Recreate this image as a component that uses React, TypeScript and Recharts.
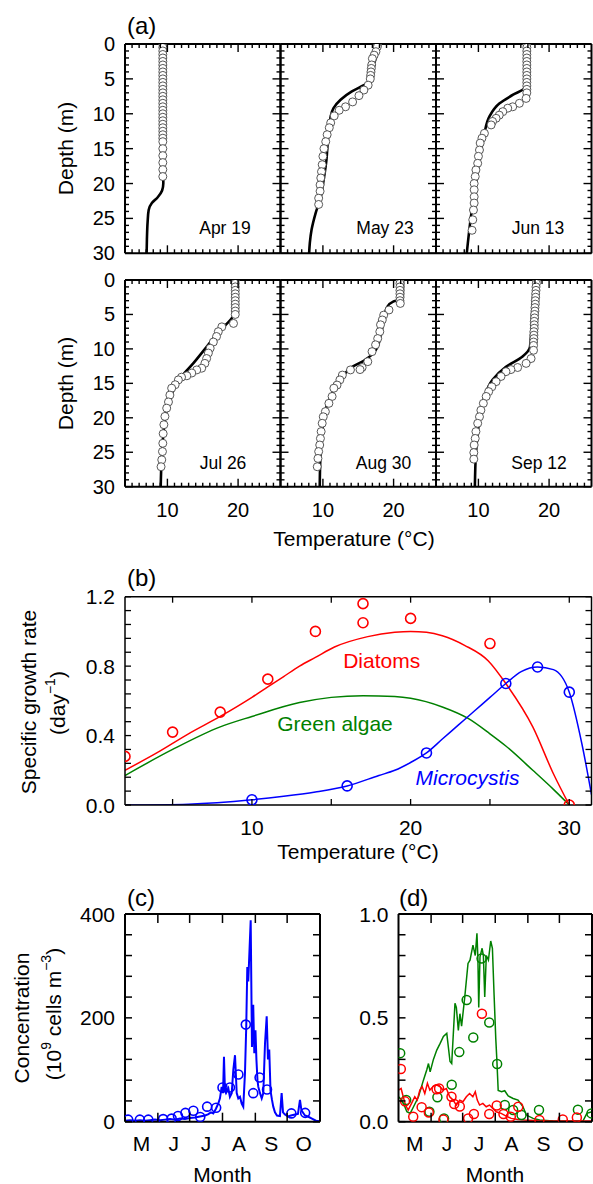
import React from 'react';
import { ComposedChart, Line, Scatter, XAxis, YAxis } from 'recharts';

const W = 593;
const H = 1184;
const FONT = '"Liberation Sans", Arial, Helvetica, sans-serif';

type Pt = [number, number];

// ---------------- (a) temperature profiles: [temperature, depth] ----------------
const profileTempTicks = [5, 6, 7, 8, 9, 10, 11, 12, 13, 14, 15, 16, 17, 18, 19, 20, 21, 22, 23, 24, 25];
const profileTempMajor = [10, 20];
const depthTicks = [0, 1, 2, 3, 4, 5, 6, 7, 8, 9, 10, 11, 12, 13, 14, 15, 16, 17, 18, 19, 20, 21, 22, 23, 24, 25, 26, 27, 28, 29, 30];
const depthMajor = [0, 5, 10, 15, 20, 25, 30];
const profileDates = ['Apr 19', 'May 23', 'Jun 13', 'Jul 26', 'Aug 30', 'Sep 12'];

const apr19Model: Pt[] = [[9.45, 0], [9.45, 10], [9.42, 20], [9.25, 21], [8.6, 22], [7.8, 22.8], [7.35, 23.8], [7.2, 25.5], [7.1, 28], [7.06, 30]];
const apr19Obs: Pt[] = [[9.35, 0], [9.35, 0.5], [9.35, 1], [9.35, 1.5], [9.35, 2], [9.35, 2.5], [9.35, 3], [9.35, 3.5], [9.35, 4], [9.35, 4.5], [9.35, 5], [9.35, 5.5], [9.35, 6], [9.35, 6.5], [9.35, 7], [9.35, 7.5], [9.35, 8], [9.35, 8.5], [9.35, 9], [9.35, 9.5], [9.35, 10], [9.35, 10.5], [9.35, 11], [9.35, 11.5], [9.35, 12], [9.35, 12.5], [9.35, 13], [9.35, 13.5], [9.35, 14], [9.35, 15], [9.35, 16], [9.35, 17], [9.35, 18], [9.35, 19]];

const may23Model: Pt[] = [[17.9, 0], [17.75, 1], [17.4, 2.3], [17.1, 3.25], [17.0, 5.2], [15.8, 5.9], [14.1, 6.8], [12.5, 8.0], [11.5, 9.2], [11.1, 10.4], [10.9, 11.8], [10.7, 13.8], [10.5, 16.6], [10.1, 19.5], [9.7, 21.9], [8.95, 24.3], [8.4, 26.6], [8.15, 28.5], [8.05, 30]];
const may23Obs: Pt[] = [[17.75, 0], [17.7, 0.4], [17.5, 1.1], [17.25, 1.6], [17.0, 2.1], [16.9, 3.0], [16.85, 3.5], [16.8, 4.0], [16.75, 4.5], [16.7, 5.0], [16.4, 5.9], [15.8, 6.6], [15.1, 7.4], [14.2, 8.3], [13.2, 9.0], [12.3, 9.5], [11.6, 10.3], [11.1, 11.3], [10.9, 12.0], [10.6, 13.0], [10.4, 14.0], [10.15, 15.0], [10.0, 16.1], [9.9, 17.3], [9.8, 18.3], [9.7, 19.2], [9.6, 20.2], [9.6, 21.1], [9.4, 22.1], [9.4, 23.0]];

const jun13Model: Pt[] = [[16.65, 0], [16.6, 3], [16.5, 6.3], [14.85, 7.3], [13.0, 8.5], [11.55, 10.4], [10.85, 12.8], [10.35, 15.2], [9.65, 20], [8.95, 24.7], [8.35, 30]];
const jun13Obs: Pt[] = [[16.85, 0], [16.85, 0.5], [16.85, 1], [16.85, 1.5], [16.85, 2], [16.85, 2.5], [16.85, 3], [16.85, 3.5], [16.85, 4], [16.85, 4.5], [16.85, 5], [16.85, 5.5], [16.85, 6], [16.85, 6.5], [16.85, 7], [16.75, 7.8], [15.8, 8.5], [14.85, 9.0], [14.15, 9.2], [13.45, 9.7], [12.95, 10.2], [12.5, 10.65], [12.0, 11.1], [11.8, 11.6], [10.85, 12.8], [10.5, 13.5], [10.25, 14.2], [10.15, 15.2], [10.0, 16.1], [9.9, 17.1], [9.65, 18.05], [9.55, 19.0], [9.4, 20.0], [9.4, 20.9], [9.4, 21.9], [9.4, 22.8], [9.3, 23.8], [9.2, 25.2], [9.1, 26.7]];

const jul26Model: Pt[] = [[19.7, 0], [19.7, 3.9], [19.55, 4.8], [18.9, 5.8], [17.45, 7.3], [15.55, 9.7], [13.65, 12.1], [12.0, 14.0], [10.85, 16.0], [9.9, 18.9], [9.4, 22.7], [9.2, 25.6], [9.05, 30]];
const jul26Obs: Pt[] = [[19.6, 0], [19.6, 0.5], [19.6, 1], [19.6, 1.5], [19.6, 2], [19.6, 2.5], [19.6, 3], [19.6, 3.5], [19.6, 4], [19.6, 4.5], [19.6, 5], [19.35, 6.3], [17.7, 6.8], [17.2, 7.5], [16.95, 8.2], [16.5, 9.0], [16.05, 9.9], [15.8, 10.6], [15.55, 11.4], [15.3, 12.1], [14.85, 12.8], [14.15, 13.05], [13.45, 13.5], [12.75, 13.9], [12.0, 14.1], [11.55, 14.5], [11.1, 15.2], [10.6, 15.7], [10.35, 16.7], [10.15, 17.7], [9.9, 18.6], [9.65, 19.8], [9.5, 21.0], [9.4, 22.3], [9.35, 23.7], [9.3, 24.9], [9.2, 26.1], [9.1, 27.1]];

const aug30Model: Pt[] = [[21.35, 0], [21.3, 2.8], [20.0, 3.1], [19.1, 3.9], [18.6, 5.8], [18.15, 8.2], [17.45, 10.2], [16.0, 11.6], [14.15, 12.6], [12.75, 14.0], [11.55, 16.0], [10.35, 18.9], [9.9, 21.8], [9.65, 25.6], [9.55, 30]];
const aug30Obs: Pt[] = [[20.9, 0], [20.9, 0.5], [20.9, 1], [20.9, 1.5], [20.9, 2], [20.9, 2.5], [20.9, 3], [20.95, 3.4], [19.35, 4.35], [18.6, 5.1], [18.4, 5.8], [18.15, 6.5], [18.05, 7.5], [17.75, 8.5], [17.45, 9.4], [16.95, 10.4], [16.35, 11.85], [15.55, 12.7], [15.25, 13.0], [13.9, 13.05], [12.75, 13.8], [12.4, 14.5], [12.0, 15.25], [11.55, 15.7], [11.3, 16.9], [10.85, 17.9], [10.35, 19.1], [10.05, 19.85], [9.9, 20.8], [9.75, 22.0], [9.65, 23.0], [9.55, 23.95], [9.4, 24.9], [9.3, 25.9], [9.2, 27.1]];

const sep12Model: Pt[] = [[17.9, 0], [17.6, 5], [17.3, 9.7], [16.25, 11.1], [13.9, 12.6], [12.0, 14.5], [10.85, 16.9], [10.15, 20.3], [9.65, 25.2], [9.5, 30]];
const sep12Obs: Pt[] = [[18.2, 0], [18.2, 0.5], [18.15, 1], [18.15, 1.5], [18.1, 2], [18.1, 2.5], [18.05, 3], [18.05, 3.5], [18.0, 4], [18.0, 4.5], [17.95, 5], [17.95, 5.5], [17.9, 6], [17.9, 6.5], [17.9, 7], [17.85, 7.5], [17.85, 8], [17.85, 8.5], [17.8, 9], [17.8, 9.5], [17.8, 10.2], [17.45, 11.4], [16.75, 12.1], [15.55, 12.7], [14.6, 13.0], [13.9, 13.3], [13.2, 14.0], [12.5, 14.75], [11.9, 15.5], [11.45, 16.2], [11.1, 16.9], [10.7, 17.9], [10.35, 18.9], [10.15, 19.85], [9.9, 20.8], [9.65, 22.0], [9.55, 23.0], [9.4, 23.95], [9.35, 25.05], [9.35, 26.0]];

// ---------------- (b) growth rate vs temperature ----------------
const growthTempTicks = [5, 10, 15, 20, 25, 30];
const growthTempLabels = [10, 20, 30];
const growthRateTicks = [0, 0.08, 0.16, 0.24, 0.32, 0.4, 0.48, 0.56, 0.64, 0.72, 0.8, 0.88, 0.96, 1.04, 1.12, 1.2];
const growthRateMajor = [0, 0.4, 0.8, 1.2];
const diatomObs: Pt[] = [[2, 0.28], [5, 0.42], [8, 0.535], [11, 0.725], [14, 1.0], [17, 1.16], [17, 1.05], [20, 1.075], [25, 0.93], [30, 0.0]];
const diatomModel: Pt[] = [[2, 0.2], [4, 0.3], [6, 0.41], [8, 0.51], [10, 0.62], [11, 0.68], [12, 0.74], [13, 0.8], [14, 0.85], [15.2, 0.91], [17.3, 0.97], [19, 0.995], [20, 1.0], [21, 0.995], [22, 0.975], [23.4, 0.92], [24.9, 0.83], [26, 0.7], [27.7, 0.45], [29, 0.18], [30, 0]];
const greenModel: Pt[] = [[2, 0.17], [5, 0.32], [8, 0.45], [10, 0.51], [13, 0.59], [15, 0.62], [17, 0.63], [19, 0.625], [20, 0.615], [22, 0.565], [23.6, 0.5], [25, 0.41], [26, 0.34], [27.7, 0.2], [29, 0.09], [30, 0]];
const microObs: Pt[] = [[10, 0.03], [16, 0.11], [21, 0.3], [26, 0.7], [28, 0.795], [30, 0.65]];
const microModel: Pt[] = [[2, 0], [6, 0.005], [10, 0.03], [12, 0.05], [14, 0.075], [16, 0.11], [18, 0.17], [19, 0.2], [20, 0.245], [21, 0.3], [22, 0.38], [23, 0.46], [24, 0.54], [25, 0.62], [26, 0.7], [27, 0.77], [28, 0.795], [29, 0.78], [30, 0.65], [30.8, 0.35], [31.4, 0.06]];

// ---------------- (c), (d) concentration vs month: [day since May 1, value] ----------------
const monthBounds = [31, 61, 92, 123, 153];
const monthMids = [15.5, 46, 76.5, 107.5, 138, 168.5];
const monthLabels = ['M', 'J', 'J', 'A', 'S', 'O'];
const concTicks = [0, 40, 80, 120, 160, 200, 240, 280, 320, 360, 400];
const concMajor = [0, 200, 400];
const fracTicks = [0, 0.1, 0.2, 0.3, 0.4, 0.5, 0.6, 0.7, 0.8, 0.9, 1.0];
const fracMajor = [0, 0.5, 1.0];

const microLine: Pt[] = [[0, 2], [4.7, 3], [9.4, 2], [14.2, 3], [18.9, 2], [23.6, 3], [28.3, 4], [33, 3], [37.7, 4], [42.5, 5], [47.2, 4], [51.9, 6], [56.6, 5], [61.3, 7], [66, 8], [70.8, 10], [75.5, 12], [78.3, 14], [81.1, 18], [83.3, 16], [85.8, 25], [88, 35], [89.6, 45], [91.2, 67], [92.5, 55], [93.4, 125], [94.3, 60], [95.3, 55], [97.5, 64], [99, 48], [100.7, 55], [102.2, 100], [103.8, 128], [105.4, 55], [106.9, 45], [108.5, 48], [110.1, 35], [111.6, 29], [113.2, 93], [114.4, 183], [115.4, 298], [116.3, 270], [118.6, 388], [119.8, 144], [121, 225], [122, 132], [123.1, 176], [124, 120], [125, 80], [125.8, 67], [127.4, 55], [129, 45], [130.5, 55], [132.1, 150], [133.7, 203], [134.9, 120], [136.1, 139], [137.3, 60], [138.7, 42], [139.9, 29], [141.5, 18], [143.4, 12], [146.2, 11], [147.8, 55], [149.1, 18], [150.9, 14], [153.8, 10], [156.6, 12], [160.4, 14], [163.2, 15], [165.1, 42], [166.5, 22], [169.8, 12], [172.6, 10], [176.4, 6], [180.2, 2], [184, 1]];
const microPts: Pt[] = [[3, 4], [14, 4], [22, 4], [36, 5], [44, 6], [50, 11], [57, 17], [64.5, 21], [71, 9], [77.5, 29], [86, 27], [92, 66], [99, 66], [107, 91], [114, 187], [121, 55], [127, 85], [134, 62], [157, 16], [170, 17]];

const greenLine: Pt[] = [[0, 0.12], [1.6, 0.112], [4.7, 0.088], [8, 0.048], [11.1, 0.04], [14.3, 0.072], [19, 0.12], [23.7, 0.2], [26.9, 0.25], [28.5, 0.28], [30.1, 0.24], [33.2, 0.3], [36.4, 0.345], [39.6, 0.377], [42.7, 0.41], [45.9, 0.425], [49, 0.29], [50.6, 0.28], [53.7, 0.57], [55, 0.55], [56.9, 0.44], [58.4, 0.52], [60, 0.46], [63, 0.6], [66.1, 0.762], [68, 0.778], [70.8, 0.85], [73, 0.8], [74.6, 0.907], [75.5, 0.786], [76.3, 0.55], [77.5, 0.794], [79.5, 0.835], [80.7, 0.8], [82, 0.6], [83.5, 0.8], [85.5, 0.778], [87.7, 0.87], [89.3, 0.835], [90.9, 0.61], [92.5, 0.4], [93.5, 0.3], [94.8, 0.15], [98, 0.144], [101, 0.149], [104.3, 0.124], [109, 0.112], [113.7, 0.104], [118.4, 0.072], [121.6, 0.032], [128, 0.016], [134.3, 0.008], [147, 0.003], [159.6, 0.002], [175.4, 0.003], [179.1, 0.04], [184, 0.048]];
const greenPts: Pt[] = [[1.6, 0.33], [7.3, 0.105], [29.4, 0.048], [37, 0.118], [43.3, 0.016], [50.6, 0.178], [57.8, 0.335], [64.8, 0.586], [71.1, 0.405], [79, 0.786], [86.3, 0.478], [93.8, 0.278], [101.1, 0.08], [109, 0.056], [117, 0.032], [133.6, 0.056], [170.6, 0.058], [183.5, 0.04]];
const diatomLine: Pt[] = [[0, 0.152], [2.5, 0.16], [4.5, 0.12], [6.7, 0.08], [9.2, 0.056], [12.4, 0.088], [15.5, 0.12], [17.8, 0.104], [20.3, 0.152], [22.5, 0.169], [25, 0.136], [27.5, 0.185], [29.8, 0.152], [32.9, 0.169], [36, 0.177], [39.2, 0.169], [42.4, 0.152], [45.5, 0.16], [48.7, 0.12], [51.9, 0.104], [55, 0.08], [58.2, 0.104], [61.3, 0.096], [64.5, 0.12], [67.6, 0.136], [70.7, 0.12], [73, 0.144], [74.9, 0.104], [77.1, 0.08], [80.2, 0.088], [83.4, 0.072], [86.5, 0.08], [89.7, 0.064], [92.9, 0.048], [97.6, 0.04], [102.4, 0.027], [107.1, 0.016], [113.4, 0.011], [119.7, 0.008], [132.4, 0.005], [151, 0.003], [170, 0.003], [184, 0.003]];
const diatomPts: Pt[] = [[2.2, 0.254], [6.2, 0.098], [14, 0.024], [22, 0.07], [28.8, 0.044], [36.2, 0.156], [38.6, 0.16], [42.7, 0.01], [50.4, 0.12], [53, 0.085], [58.3, 0.073], [66.2, 0.016], [71.7, 0.037], [79.3, 0.52], [86.3, 0.037], [93.4, 0.078], [99.8, 0.037], [106.8, 0.024], [113.9, 0.072], [134, 0.008], [156.2, 0.011], [169.6, 0.02]];

// ---------------- helpers ----------------
const toXY = (arr: Pt[]) => arr.map(([x, y]) => ({ x, y }));
const near = (a: number[], v: number) => a.some((m) => Math.abs(m - v) < 1e-6);

type Side = 'bottom' | 'top' | 'left' | 'right';
type TickCfg = {
  major: number[];
  majorLen: number;
  minorLen: number;
  noLine?: number[];
  label?: (v: number) => string | null;
  fontSize?: number;
  offset?: number;
  sw?: number;
};

function makeTick(side: Side, cfg: TickCfg) {
  return function TickMark(p: any) {
    const v = Number(p.payload?.value);
    const x = Number(p.x);
    const y = Number(p.y);
    const len = cfg.noLine && near(cfg.noLine, v) ? 0 : near(cfg.major, v) ? cfg.majorLen : cfg.minorLen;
    const sw = cfg.sw ?? 1.5;
    let x2 = x;
    let y2 = y;
    if (side === 'bottom') y2 = y - len;
    else if (side === 'top') y2 = y + len;
    else if (side === 'left') x2 = x + len;
    else x2 = x - len;
    const lab = cfg.label ? cfg.label(v) : null;
    const off = cfg.offset ?? 20;
    const fs = cfg.fontSize ?? 21;
    let text: React.ReactNode = null;
    if (lab != null) {
      if (side === 'bottom') {
        text = (
          <text x={x} y={y + off} textAnchor="middle" dominantBaseline="central" fontSize={fs} fontFamily={FONT} fill="#000">
            {lab}
          </text>
        );
      } else if (side === 'left') {
        text = (
          <text x={x - off} y={y} textAnchor="end" dominantBaseline="central" fontSize={fs} fontFamily={FONT} fill="#000">
            {lab}
          </text>
        );
      }
    }
    return (
      <g>
        {len > 0 && <line x1={x} y1={y} x2={x2} y2={y2} stroke="#000" strokeWidth={sw} />}
        {text}
      </g>
    );
  };
}

type FrameProps = {
  rect: [number, number, number, number];
  xDomain: [number, number];
  yDomain: [number, number];
  yReversed?: boolean;
  xTicks: number[];
  yTicks: number[];
  bottom: TickCfg;
  top: TickCfg;
  left: TickCfg;
  right: TickCfg;
  fw: number;
  children?: React.ReactNode;
};

// Axis bands are 1px wide; margins are reduced by 1px so the plot area equals rect.
function Frame({ rect, xDomain, yDomain, yReversed, xTicks, yTicks, bottom, top, left, right, fw, children }: FrameProps) {
  const [l, t, r, b] = rect;
  const axisLine = { stroke: '#000', strokeWidth: fw };
  return (
    <div style={{ position: 'absolute', left: 0, top: 0 }}>
      <ComposedChart width={W} height={H} margin={{ left: l - 1, top: t - 1, right: W - r - 1, bottom: H - b - 1 }}>
        <XAxis xAxisId="b" orientation="bottom" type="number" dataKey="x" domain={xDomain} allowDataOverflow ticks={xTicks} interval={0} height={1} tickSize={0} tickMargin={0} tickLine={false} axisLine={axisLine} tick={makeTick('bottom', bottom)} />
        <XAxis xAxisId="t" orientation="top" type="number" dataKey="x" domain={xDomain} allowDataOverflow ticks={xTicks} interval={0} height={1} tickSize={0} tickMargin={0} tickLine={false} axisLine={axisLine} tick={makeTick('top', top)} />
        <YAxis yAxisId="l" orientation="left" type="number" dataKey="y" domain={yDomain} reversed={!!yReversed} allowDataOverflow ticks={yTicks} interval={0} width={1} tickSize={0} tickMargin={0} tickLine={false} axisLine={axisLine} tick={makeTick('left', left)} />
        <YAxis yAxisId="r" orientation="right" type="number" dataKey="y" domain={yDomain} reversed={!!yReversed} allowDataOverflow ticks={yTicks} interval={0} width={1} tickSize={0} tickMargin={0} tickLine={false} axisLine={axisLine} tick={makeTick('right', right)} />
        {children}
      </ComposedChart>
    </div>
  );
}

const ring = (r: number, stroke: string, sw: number, fill: string) => (p: any) =>
  <circle cx={p.cx} cy={p.cy} r={r} stroke={stroke} strokeWidth={sw} fill={fill} />;

function Txt({ x, y, size = 21, anchor = 'middle', rot = 0, color = '#000', italic = false, children }: any) {
  return (
    <text transform={`translate(${x},${y}) rotate(${rot})`} textAnchor={anchor} dominantBaseline="central" fontSize={size} fill={color} fontStyle={italic ? 'italic' : 'normal'} fontFamily={FONT}>
      {children}
    </text>
  );
}

// ---------------- panel (a) layout ----------------
const profiles = [
  { model: apr19Model, obs: apr19Obs },
  { model: may23Model, obs: may23Obs },
  { model: jun13Model, obs: jun13Obs },
  { model: jul26Model, obs: jul26Obs },
  { model: aug30Model, obs: aug30Obs },
  { model: sep12Model, obs: sep12Obs },
];
const colLefts = [125, 280.5, 436, 591.5];
const rowTB: [number, number][] = [[44, 253.3], [280, 486.7]];

export default function App() {
  const tempLabel = (v: number) => (near(profileTempMajor, v) ? String(v) : null);
  const depthLabel = (v: number) => (near(depthMajor, v) ? String(v) : null);
  const aTick = (label?: (v: number) => string | null, offset = 10): TickCfg => ({ major: profileTempMajor, majorLen: 8, minorLen: 4, label, fontSize: 20, offset, sw: 1.4 });
  const aYTick = (label?: (v: number) => string | null): TickCfg => ({ major: depthMajor, majorLen: 8, minorLen: 4, label, fontSize: 20, offset: 10, sw: 1.4 });

  const monthLabel = (v: number) => {
    const i = monthMids.findIndex((m) => Math.abs(m - v) < 1e-6);
    return i >= 0 ? monthLabels[i] : null;
  };
  const monthTicks = [...monthMids, ...monthBounds].sort((a, b) => a - b);

  return (
    <div style={{ position: 'absolute', left: 0, top: 0, width: W, height: H, overflow: 'hidden', background: '#fff', fontFamily: FONT }}>
      {profiles.map((p, i) => {
        const row = Math.floor(i / 3);
        const col = i % 3;
        const [t, b] = rowTB[row];
        return (
          <Frame
            key={i}
            rect={[colLefts[col], t, colLefts[col + 1], b]}
            xDomain={[4, 26]}
            yDomain={[0, 30]}
            yReversed
            xTicks={profileTempTicks}
            yTicks={depthTicks}
            bottom={aTick(row === 1 ? tempLabel : undefined, 23.5)}
            top={aTick()}
            left={aYTick(col === 0 ? depthLabel : undefined)}
            right={aYTick()}
            fw={2}
          >
            <Scatter data={toXY(p.obs)} xAxisId="b" yAxisId="l" isAnimationActive={false} shape={ring(4, '#444', 0.9, '#fff')} />
            <Line data={toXY(p.model)} dataKey="y" xAxisId="b" yAxisId="l" type="monotoneY" stroke="#000" strokeWidth={2.6} dot={false} activeDot={false} isAnimationActive={false} />
          </Frame>
        );
      })}

      <Frame
        rect={[125, 596.7, 591.5, 805]}
        xDomain={[2, 31.4]}
        yDomain={[0, 1.2]}
        xTicks={growthTempTicks}
        yTicks={growthRateTicks}
        bottom={{ major: growthTempTicks, majorLen: 6, minorLen: 6, label: (v) => (near(growthTempLabels, v) ? String(v) : null), offset: 22, sw: 1.3 }}
        top={{ major: growthTempTicks, majorLen: 6, minorLen: 6, sw: 1.3 }}
        left={{ major: growthRateMajor, majorLen: 6, minorLen: 6, label: (v) => (near(growthRateMajor, v) ? v.toFixed(1) : null), offset: 10, sw: 1.3 }}
        right={{ major: growthRateMajor, majorLen: 6, minorLen: 6, sw: 1.3 }}
        fw={1.5}
      >
        <Line data={toXY(greenModel)} dataKey="y" xAxisId="b" yAxisId="l" type="monotone" stroke="#008000" strokeWidth={1.5} dot={false} activeDot={false} isAnimationActive={false} />
        <Line data={toXY(diatomModel)} dataKey="y" xAxisId="b" yAxisId="l" type="monotone" stroke="#ff0000" strokeWidth={1.5} dot={false} activeDot={false} isAnimationActive={false} />
        <Line data={toXY(microModel)} dataKey="y" xAxisId="b" yAxisId="l" type="monotone" stroke="#0000ff" strokeWidth={1.5} dot={false} activeDot={false} isAnimationActive={false} />
        <Scatter data={toXY(diatomObs)} xAxisId="b" yAxisId="l" isAnimationActive={false} shape={ring(5, '#ff0000', 1.6, 'none')} />
        <Scatter data={toXY(microObs)} xAxisId="b" yAxisId="l" isAnimationActive={false} shape={ring(5, '#0000ff', 1.6, 'none')} />
      </Frame>

      <Frame
        rect={[125, 914, 320, 1121.7]}
        xDomain={[0, 184]}
        yDomain={[0, 400]}
        xTicks={monthTicks}
        yTicks={concTicks}
        bottom={{ major: monthBounds, majorLen: 9, minorLen: 9, noLine: monthMids, label: monthLabel, offset: 22, sw: 1.5 }}
        top={{ major: monthBounds, majorLen: 9, minorLen: 9, noLine: monthMids, sw: 1.5 }}
        left={{ major: concMajor, majorLen: 7, minorLen: 7, label: (v) => (near(concMajor, v) ? String(v) : null), offset: 10, sw: 1.5 }}
        right={{ major: concMajor, majorLen: 7, minorLen: 7, sw: 1.5 }}
        fw={2}
      >
        <Line data={toXY(microLine)} dataKey="y" xAxisId="b" yAxisId="l" type="linear" stroke="#0000ff" strokeWidth={2} dot={false} activeDot={false} isAnimationActive={false} />
        <Scatter data={toXY(microPts)} xAxisId="b" yAxisId="l" isAnimationActive={false} shape={ring(4.5, '#0000ff', 1.6, 'none')} />
      </Frame>

      <Frame
        rect={[398.5, 914, 592, 1121.7]}
        xDomain={[0, 184]}
        yDomain={[0, 1]}
        xTicks={monthTicks}
        yTicks={fracTicks}
        bottom={{ major: monthBounds, majorLen: 9, minorLen: 9, noLine: monthMids, label: monthLabel, offset: 22, sw: 1.5 }}
        top={{ major: monthBounds, majorLen: 9, minorLen: 9, noLine: monthMids, sw: 1.5 }}
        left={{ major: fracMajor, majorLen: 7, minorLen: 7, label: (v) => (near(fracMajor, v) ? v.toFixed(1) : null), offset: 10, sw: 1.5 }}
        right={{ major: fracMajor, majorLen: 7, minorLen: 7, sw: 1.5 }}
        fw={2}
      >
        <Line data={toXY(greenLine)} dataKey="y" xAxisId="b" yAxisId="l" type="linear" stroke="#008000" strokeWidth={1.5} dot={false} activeDot={false} isAnimationActive={false} />
        <Line data={toXY(diatomLine)} dataKey="y" xAxisId="b" yAxisId="l" type="linear" stroke="#ff0000" strokeWidth={1.5} dot={false} activeDot={false} isAnimationActive={false} />
        <Scatter data={toXY(greenPts)} xAxisId="b" yAxisId="l" isAnimationActive={false} shape={ring(4.5, '#008000', 1.5, 'none')} />
        <Scatter data={toXY(diatomPts)} xAxisId="b" yAxisId="l" isAnimationActive={false} shape={ring(4.5, '#ff0000', 1.5, 'none')} />
      </Frame>

      <svg width={W} height={H} style={{ position: 'absolute', left: 0, top: 0, pointerEvents: 'none' }}>
        {/* (a) */}
        <Txt x={127} y={25} size={24} anchor="start">(a)</Txt>
        <Txt x={65} y={148.5} rot={-90}>Depth (m)</Txt>
        <Txt x={65} y={383.5} rot={-90}>Depth (m)</Txt>
        <Txt x={354} y={538}>Temperature (°C)</Txt>
        <Txt x={225} y={228} size={17.5}>{profileDates[0]}</Txt>
        <Txt x={385} y={228} size={17.5}>{profileDates[1]}</Txt>
        <Txt x={538} y={228} size={17.5}>{profileDates[2]}</Txt>
        <Txt x={223} y={463} size={17.5}>{profileDates[3]}</Txt>
        <Txt x={383.5} y={463} size={17.5}>{profileDates[4]}</Txt>
        <Txt x={539} y={463} size={17.5}>{profileDates[5]}</Txt>

        {/* (b) */}
        <Txt x={127} y={577} size={24} anchor="start">(b)</Txt>
        <Txt x={28} y={702} rot={-90}>Specific growth rate</Txt>
        <Txt x={57} y={703} rot={-90}>
          (day<tspan dy={-7} fontSize={14}>−1</tspan><tspan dy={7}>)</tspan>
        </Txt>
        <Txt x={358} y={851}>Temperature (°C)</Txt>
        <Txt x={381.7} y={660} color="#ff0000">Diatoms</Txt>
        <Txt x={335} y={723} color="#008000">Green algae</Txt>
        <Txt x={467.5} y={777} color="#0000ff" italic>Microcystis</Txt>

        {/* (c), (d) */}
        <Txt x={127} y={897} size={24} anchor="start">(c)</Txt>
        <Txt x={399} y={897} size={24} anchor="start">(d)</Txt>
        <Txt x={21} y={1018} rot={-90}>Concentration</Txt>
        <Txt x={53} y={1014} rot={-90}>
          (10<tspan dy={-7} fontSize={14}>9</tspan><tspan dy={7}> cells m</tspan><tspan dy={-7} fontSize={14}>−3</tspan><tspan dy={7}>)</tspan>
        </Txt>
        <Txt x={222.5} y={1174}>Month</Txt>
        <Txt x={495} y={1174}>Month</Txt>
      </svg>
    </div>
  );
}
